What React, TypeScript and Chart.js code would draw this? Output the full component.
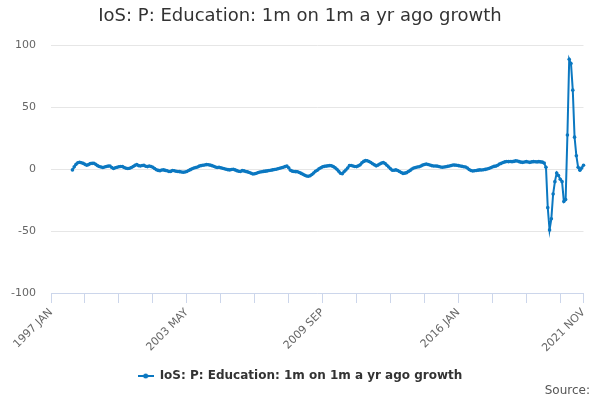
import React, { useEffect, useRef } from "react";
import { Chart, registerables } from "chart.js";

Chart.register(...registerables);

const TITLE = "IoS: P: Education: 1m on 1m a yr ago growth";
const SERIES_NAME = "IoS: P: Education: 1m on 1m a yr ago growth";
const SOURCE_TEXT = "Source:";
const MONTHS = ["JAN", "FEB", "MAR", "APR", "MAY", "JUN", "JUL", "AUG", "SEP", "OCT", "NOV", "DEC"];
const FIRST_YEAR = 1997;
const LAST_YEAR = 2021;
const LAST_MONTH = 10; // NOV
const LABELLED_TICKS = ["1997 JAN", "2003 MAY", "2009 SEP", "2016 JAN", "2021 NOV"];
const TICK_STEP = 19;
const Y_TICKS = [-100, -50, 0, 50, 100];

const v1997 = [null, null, null, null, null, null, null, null, null, null, null, null];
const v1998 = [-0.5, 2.0, 4.0, 5.3, 5.7, 5.3, 4.8, 4.0, 3.3, 3.8, 4.6, 4.8];
const v1999 = [4.9, 4.0, 3.0, 2.3, 1.8, 1.5, 1.9, 2.3, 2.6, 2.7, 1.5, 0.6];
const v2000 = [1.3, 1.7, 2.1, 2.3, 2.2, 1.5, 0.8, 0.6, 0.9, 1.5, 2.3, 3.2];
const v2001 = [3.8, 3.0, 2.7, 3.1, 3.2, 2.5, 2.2, 2.7, 2.3, 1.6, 0.6, -0.4];
const v2002 = [-0.9, -1.1, -0.6, -0.5, -0.9, -1.2, -1.8, -1.7, -1.0, -1.2, -1.6, -1.8];
const v2003 = [-1.9, -2.2, -2.4, -2.2, -1.8, -1.0, -0.3, 0.5, 1.0, 1.4, 1.9, 2.6];
const v2004 = [3.0, 3.3, 3.5, 3.8, 3.7, 3.4, 3.0, 2.5, 1.9, 1.5, 1.7, 1.3];
const v2005 = [0.9, 0.5, 0.0, -0.3, -0.5, -0.2, 0.1, -0.5, -1.1, -1.6, -1.8, -1.1];
const v2006 = [-1.3, -1.8, -2.1, -2.6, -3.2, -3.8, -3.6, -3.2, -2.6, -2.2, -2.0, -1.7];
const v2007 = [-1.5, -1.3, -1.0, -0.8, -0.5, -0.2, 0.0, 0.4, 0.8, 1.2, 1.6, 2.2];
const v2008 = [2.6, 1.2, -0.8, -1.5, -1.8, -1.9, -2.0, -2.6, -3.3, -4.0, -4.8, -5.4];
const v2009 = [-5.6, -5.2, -4.2, -3.0, -1.6, -0.8, 0.4, 1.2, 2.0, 2.4, 2.6, 2.8];
const v2010 = [3.0, 2.8, 2.2, 1.2, 0.0, -1.6, -3.2, -3.6, -2.0, -0.6, 1.0, 3.0];
const v2011 = [3.1, 2.7, 2.3, 2.2, 2.8, 3.6, 5.2, 6.4, 7.0, 6.9, 6.3, 5.5];
const v2012 = [4.5, 3.6, 2.8, 3.4, 4.3, 5.0, 5.4, 4.6, 3.3, 1.8, 0.4, -0.8];
const v2013 = [-0.8, -0.5, -1.0, -1.8, -2.6, -3.3, -3.1, -2.7, -1.8, -0.9, 0.2, 1.0];
const v2014 = [1.4, 1.8, 2.1, 2.7, 3.4, 3.9, 4.3, 3.9, 3.5, 3.0, 2.7, 2.7];
const v2015 = [2.6, 2.3, 1.9, 1.6, 1.8, 2.1, 2.4, 2.7, 3.1, 3.5, 3.4, 3.3];
const v2016 = [3.0, 2.7, 2.4, 2.1, 1.8, 1.0, -0.2, -1.0, -1.4, -1.2, -1.0, -0.7];
const v2017 = [-0.5, -0.6, -0.4, -0.1, 0.2, 0.6, 1.2, 1.9, 2.4, 2.6, 3.3, 4.3];
const v2018 = [4.8, 5.5, 6.0, 6.3, 6.2, 6.3, 6.2, 6.4, 6.8, 6.7, 6.2, 5.8];
const v2019 = [5.6, 5.9, 6.2, 5.9, 5.6, 6.0, 6.2, 6.1, 6.0, 6.2, 6.0, 5.8];
const v2020 = [5.0, 1.6, -31, -49, -40, -20, -10, -3, -5, -8, -10, -26];
const v2021 = [-24.5, 27.7, 89, 85.5, 64, 26, 11, 1.6, -0.8, 1.0, 3.3];

const YEAR_VALUES = [
  v1997, v1998, v1999, v2000, v2001, v2002, v2003, v2004, v2005, v2006, v2007, v2008, v2009,
  v2010, v2011, v2012, v2013, v2014, v2015, v2016, v2017, v2018, v2019, v2020, v2021,
];

const LINE_COLOR = "#0b78c1";
const FONT = "DejaVu Sans";

function buildCategories(): string[] {
  const out: string[] = [];
  for (let y = FIRST_YEAR; y <= LAST_YEAR; y++) {
    for (let m = 0; m < 12; m++) {
      if (y === LAST_YEAR && m > LAST_MONTH) break;
      out.push(`${y} ${MONTHS[m]}`);
    }
  }
  return out;
}

export default function App() {
  const canvasRef = useRef<HTMLCanvasElement | null>(null);

  useEffect(() => {
    const canvas = canvasRef.current;
    if (!canvas) return;
    const categories = buildCategories();
    const values = ([] as (number | null)[]).concat(...YEAR_VALUES);
    const lastIndex = categories.length - 1;

    const ps = document.createElement("canvas");
    ps.width = 16;
    ps.height = 8;
    const pctx = ps.getContext("2d");
    if (pctx) {
      pctx.strokeStyle = LINE_COLOR;
      pctx.fillStyle = LINE_COLOR;
      pctx.lineWidth = 2;
      pctx.beginPath();
      pctx.moveTo(0, 4);
      pctx.lineTo(16, 4);
      pctx.stroke();
      pctx.beginPath();
      pctx.arc(8, 4, 2.5, 0, Math.PI * 2);
      pctx.fill();
    }

    const chart = new Chart(canvas, {
      type: "line",
      data: {
        labels: categories,
        datasets: [
          {
            label: SERIES_NAME,
            data: values,
            borderColor: LINE_COLOR,
            backgroundColor: LINE_COLOR,
            borderWidth: 2,
            pointRadius: 1.8,
            pointHoverRadius: 3,
            pointBorderWidth: 0,
            tension: 0,
            yAxisID: "y",
          },
        ],
      },
      options: {
        animation: false,
        responsive: true,
        maintainAspectRatio: false,
        layout: { padding: { left: 0, right: 0, top: 0, bottom: 8 } },
        plugins: {
          title: {
            display: true,
            text: TITLE,
            color: "#333333",
            font: { family: FONT, size: 18, weight: "normal" },
            padding: { top: 6, bottom: 18 },
          },
          legend: {
            position: "bottom",
            labels: {
              usePointStyle: true,
              pointStyle: ps as any,
              pointStyleWidth: 16,
              color: "#333333",
              font: { family: FONT, size: 12, weight: "bold" },
              padding: 10,
            },
          },
          tooltip: { enabled: false },
        },
        scales: {
          x: {
            type: "category",
            offset: false,
            grid: {
              drawOnChartArea: false,
              drawTicks: true,
              tickLength: 10,
              color: "#ccd6eb",
            },
            border: { display: true, color: "#ccd6eb", width: 1 },
            afterBuildTicks: (axis: any) => {
              axis.ticks = axis.ticks.filter(
                (t: any) => t.value % TICK_STEP === 0 || t.value === lastIndex
              );
            },
            afterFit: (axis: any) => {
              axis.height = 67;
            },
            ticks: {
              autoSkip: false,
              maxRotation: 45,
              minRotation: 45,
              padding: 3,
              color: "#666666",
              font: { family: FONT, size: 11 },
              callback: function (this: any, value: any) {
                const lbl = categories[value as number];
                return LABELLED_TICKS.includes(lbl) ? lbl : "";
              },
            },
          },
          y: {
            position: "left",
            min: Y_TICKS[0],
            max: Y_TICKS[Y_TICKS.length - 1],
            afterBuildTicks: (axis: any) => {
              axis.ticks = Y_TICKS.map((v) => ({ value: v }));
            },
            afterFit: (axis: any) => {
              axis.width = 51;
            },
            grid: { color: "#e6e6e6", drawTicks: false, lineWidth: 1 },
            border: { display: false },
            ticks: {
              padding: 15,
              color: "#666666",
              font: { family: FONT, size: 11 },
            },
          },
          spacer: {
            type: "linear",
            position: "right",
            display: true,
            min: Y_TICKS[0],
            max: Y_TICKS[Y_TICKS.length - 1],
            grid: { display: false, drawTicks: false },
            border: { display: false },
            ticks: { display: false },
            afterFit: (axis: any) => {
              axis.width = 16.5;
            },
          },
        },
      },
    });

    return () => chart.destroy();
  }, []);

  return (
    <div style={{ position: "fixed", left: 0, top: 0, width: 600, height: 400, background: "#ffffff" }}>
      <canvas ref={canvasRef} />
      <div
        style={{
          position: "absolute",
          right: 10,
          top: 382,
          fontFamily: FONT,
          fontSize: 12,
          color: "#555555",
          lineHeight: "16px",
        }}
      >
        {SOURCE_TEXT}
      </div>
    </div>
  );
}
